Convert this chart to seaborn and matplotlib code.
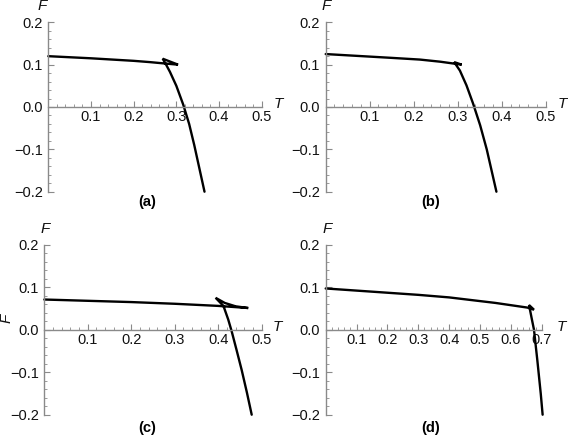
import numpy as np
import pandas as pd
import matplotlib
matplotlib.use("Agg")
import matplotlib.pyplot as plt
import seaborn as sns
from matplotlib.ticker import FixedLocator, FuncFormatter

# ---------------- data ----------------
# (a)
T_a = [0.000, 0.050, 0.100, 0.150, 0.200, 0.238, 0.270, 0.304,
       0.286, 0.268,
       0.276, 0.285, 0.300, 0.316, 0.330, 0.342, 0.354, 0.366]
F_a = [0.120, 0.1175, 0.115, 0.112, 0.109, 0.106, 0.103, 0.100,
       0.107, 0.114,
       0.100, 0.083, 0.050, 0.006, -0.040, -0.090, -0.145, -0.200]
# (b)
T_b = [0.000, 0.050, 0.100, 0.150, 0.214, 0.260, 0.309,
       0.292,
       0.305, 0.320, 0.335, 0.351, 0.366, 0.377, 0.388]
F_b = [0.125, 0.122, 0.119, 0.116, 0.112, 0.107, 0.100,
       0.106,
       0.086, 0.051, 0.008, -0.043, -0.100, -0.150, -0.200]
# (c)
T_c = [0.000, 0.100, 0.200, 0.300, 0.400, 0.469,
       0.440, 0.415, 0.394,
       0.412, 0.423, 0.431, 0.442, 0.454, 0.466, 0.477]
F_c = [0.071, 0.068, 0.065, 0.061, 0.056, 0.051,
       0.055, 0.063, 0.075,
       0.056, 0.024, -0.004, -0.047, -0.095, -0.148, -0.200]
# (d)
T_d = [0.000, 0.100, 0.200, 0.300, 0.400, 0.469, 0.550, 0.654, 0.675,
       0.659,
       0.668, 0.675, 0.686, 0.697, 0.703]
F_d = [0.097, 0.092, 0.087, 0.082, 0.076, 0.070, 0.063, 0.052, 0.047,
       0.058,
       0.025, 0.000, -0.073, -0.151, -0.200]

x_major_a = [0.1, 0.2, 0.3, 0.4, 0.5]
x_major_d = [0.1, 0.2, 0.3, 0.4, 0.5, 0.6, 0.7]
y_major = [-0.2, -0.1, 0.0, 0.1, 0.2]
panel_names = ["(a)", "(b)", "(c)", "(d)"]

# ---------------- style ----------------
sns.set_theme(style="white")
plt.rcParams['font.family'] = ['Liberation Sans', 'DejaVu Sans']

W, H = 568, 437
fig = plt.figure(figsize=(W / 100, H / 100), dpi=100)
fig.patch.set_facecolor("white")

AX_COL = "#8a8a8a"
TXT_COL = "#111111"

def fmt(v, pos=None):
    s = "%.1f" % abs(v)
    return ("\u2212" + s) if v < -1e-9 else s

def px_axes(x0, x1, ytop, ybot):
    return fig.add_axes([x0 / W, 1 - ybot / H, (x1 - x0) / W, (ybot - ytop) / H])

# pixel boxes: (x at T=0, x at T=max, y at F=0.2, y at F=-0.2)
boxes = [
    (48.3, 261.7, 22.3, 191.7, 0.5),
    (325.7, 545.7, 22.3, 191.7, 0.5),
    (44.3, 261.7, 244.7, 414.7, 0.5),
    (325.7, 541.7, 244.7, 414.7, 0.7),
]
datasets = [(T_a, F_a), (T_b, F_b), (T_c, F_c), (T_d, F_d)]

for i, ((x0, x1, yt, yb, tmax), (T, F)) in enumerate(zip(boxes, datasets)):
    ax = px_axes(x0, x1, yt, yb)
    ax.set_facecolor("none")
    df = pd.DataFrame({"T": T, "F": F})
    sns.lineplot(data=df, x="T", y="F", sort=False, estimator=None,
                 color="black", lw=1.7, ax=ax)
    for ln in ax.get_lines():
        ln.set_clip_on(False)
        ln.set_solid_joinstyle("miter")
    ax.set_xlim(0, tmax)
    ax.set_ylim(-0.2, 0.2)
    ax.set_xlabel("")
    ax.set_ylabel("")
    for s in ["top", "right"]:
        ax.spines[s].set_visible(False)
    ax.spines["left"].set_position(("data", 0))
    ax.spines["bottom"].set_position(("data", 0))
    for s in ["left", "bottom"]:
        ax.spines[s].set_color(AX_COL)
        ax.spines[s].set_linewidth(1.0)
    xm = x_major_d if tmax > 0.6 else x_major_a
    ax.xaxis.set_major_locator(FixedLocator(xm))
    ax.xaxis.set_minor_locator(FixedLocator(
        [round(v, 2) for v in np.arange(0.02, tmax + 1e-9, 0.02)]))
    ax.yaxis.set_major_locator(FixedLocator(y_major))
    ax.yaxis.set_minor_locator(FixedLocator(
        [round(v, 2) for v in np.arange(-0.2, 0.2001, 0.02)]))
    ax.xaxis.set_major_formatter(FuncFormatter(fmt))
    ax.yaxis.set_major_formatter(FuncFormatter(fmt))
    ax.tick_params(axis="both", which="both", bottom=True, left=True,
                   top=False, right=False)
    ax.tick_params(axis="both", which="major", direction="in", length=4,
                   width=0.8, color=AX_COL, labelsize=10.5, labelcolor=TXT_COL)
    ax.tick_params(axis="both", which="minor", direction="in", length=2,
                   width=0.6, color=AX_COL)
    ax.tick_params(axis="x", which="major", pad=2.5)
    ax.tick_params(axis="y", which="major", pad=4.0)
    ax.grid(False)

# axis names and panel labels (pixel positions)
F_pos = [(42.5, 6), (326.5, 6), (45, 229), (327.5, 229)]
T_pos = [(278, 104.5), (562, 104.5), (277, 327), (561, 327)]
P_pos = [(147, 202), (431, 202), (147, 428), (431, 428)]
for (fx, fy), (tx, ty), (px, py), name in zip(F_pos, T_pos, P_pos, panel_names):
    fig.text(fx / W, 1 - fy / H, "F", style="italic", fontsize=11,
             ha="center", va="center", color=TXT_COL)
    fig.text(tx / W, 1 - ty / H, "T", style="italic", fontsize=11,
             ha="center", va="center", color=TXT_COL)
    fig.text(px / W, 1 - py / H, name, fontweight="bold", fontsize=10.5,
             ha="center", va="center", color="black")

# stray rotated axis label in panel (c)
fig.text(7 / W, 1 - 318 / H, "F", style="italic", fontsize=11, rotation=90,
         ha="center", va="center", color=TXT_COL)

fig.savefig("out.png", dpi=100, facecolor="white")
